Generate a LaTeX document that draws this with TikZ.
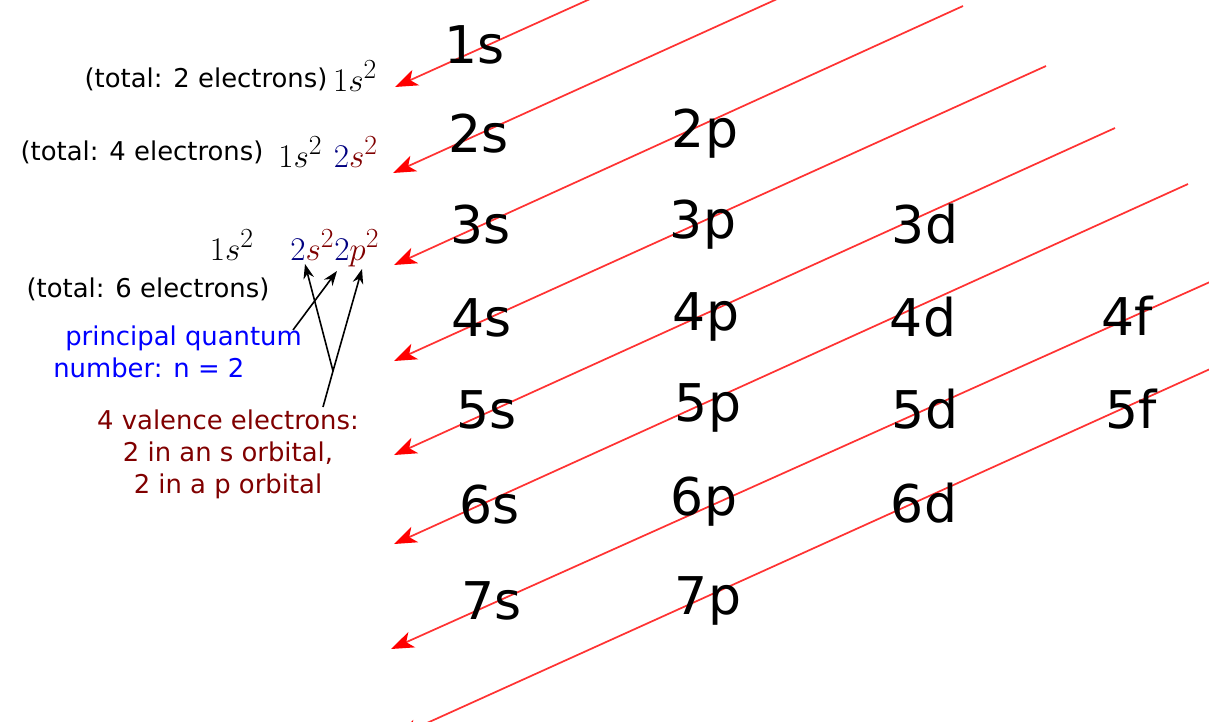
\documentclass[tikz,border=0pt]{standalone}
\usepackage[no-math]{fontspec}
\setmainfont{DejaVu Sans}
\definecolor{diagred}{RGB}{255, 51, 51}
\definecolor{tipred}{RGB}{255, 0, 0}
\definecolor{qnavy}{RGB}{0, 0, 128}
\definecolor{lmaroon}{RGB}{128, 0, 0}
\definecolor{textblue}{RGB}{0, 0, 255}
\usetikzlibrary{arrows.meta}

\begin{document}
\begin{tikzpicture}[x=0.75pt, y=-0.75pt,
    orb/.style={anchor=base, inner sep=0pt, font=\fontsize{39}{47}\selectfont},
    note/.style={anchor=base, inner sep=0pt, font=\fontsize{19.4}{24}\selectfont},
    cfg/.style={anchor=base, inner sep=0pt, font=\fontsize{27.5}{33}\selectfont},
    diag/.style={draw=diagred, line width=1.3pt, -{Stealth[length=17pt, width=12.5pt, inset=4.5pt, color=tipred]}},
    pointer/.style={draw=black, line width=1.2pt, -{Stealth[length=11pt, width=8pt]}}]
  \useasboundingbox (0,0) rectangle (1209,721);
  \clip (0,0) rectangle (1209,721);

  % diagonal filling order
  \foreach \tx/\ty/\hx/\hy [count=\i] in {395/87/610/-10, 393/173/797/-10, 394/265/963/6,
      394/361/1046/66, 394/455/1115/128, 394/544/1188/184, 391/649/1230/273, 396/737/1230/360} {
    \coordinate (tip\i) at (\tx,\ty);
    \coordinate (top\i) at (\hx,\hy);
    \draw[diag] (top\i) -- (tip\i);
  }

  % orbitals
  \foreach \name/\x/\y in {1s/475/63, 2s/479/152, 3s/481/243, 4s/482/336, 5s/487/428, 6s/490/523, 7s/492/619,
      2p/705/147, 3p/703/238, 4p/706/330, 5p/708/421, 6p/704/515, 7p/708/614,
      3d/925/243, 4d/923/336, 5d/925/428, 6d/924/522,
      4f/1127/335, 5f/1131/428} {
    \node[orb] (o\name) at (\x,\y) {\name};
  }

  % configurations
  \node[note] (tot2) at (206,87) {(total: 2 electrons)};
  \node[cfg] (cfg1) at (355,91) {$1s^2$};
  \node[note] (tot4) at (142,160) {(total: 4 electrons)};
  \node[cfg] (cfg2) at (328,167) {$1s^2\ {\color{qnavy}2}{\color{lmaroon}s^2}$};
  \node[cfg] (cfg3) at (294.5,260) {$1s^2\quad{\color{qnavy}2}{\color{lmaroon}s^2}{\color{qnavy}2}{\color{lmaroon}p^2}$};
  \node[note] (tot6) at (148,297) {(total: 6 electrons)};

  \node[note, text=textblue, align=left, anchor=base west] (pqn) at (53,377) {\hspace*{9pt}principal quantum\\number: n = 2};
  \node[note, text=lmaroon, align=center] (val) at (228,493) {4 valence electrons:\\2 in an s orbital,\\2 in a p orbital};

  % pointers
  \coordinate (pqnfrom) at (293,330);
  \coordinate (fork) at (333,371);
  \coordinate (valfrom) at (323,407);
  \coordinate (ats) at (305,264);
  \coordinate (atn) at (337,271);
  \coordinate (atp) at (362,269);
  \draw[pointer] (pqnfrom) -- (atn);
  \draw[line width=1.2pt] (valfrom) -- (fork);
  \draw[pointer] (fork) -- (ats);
  \draw[pointer] (fork) -- (atp);
\end{tikzpicture}
\end{document}
